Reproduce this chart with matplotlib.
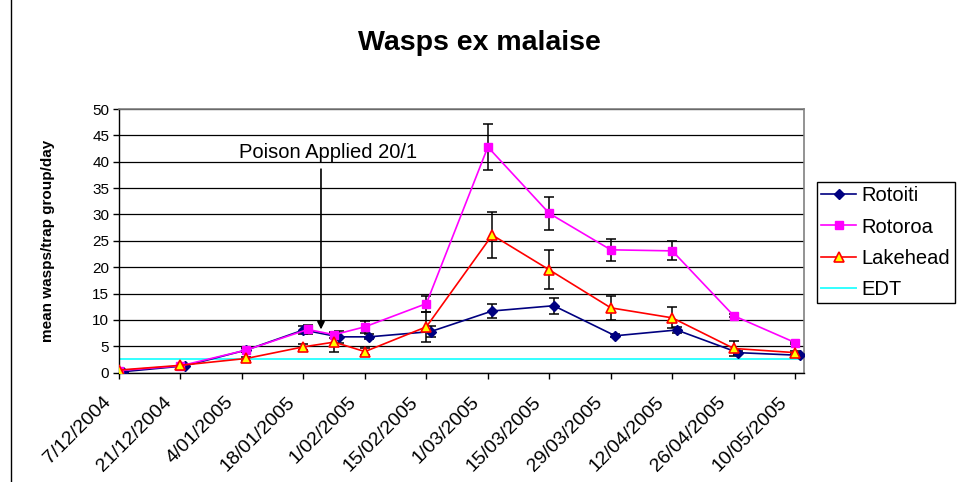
import matplotlib
matplotlib.use("Agg")
import matplotlib.pyplot as plt
import matplotlib.transforms as mtransforms
import pandas as pd
import numpy as np

plt.rcParams['font.family'] = ['Liberation Sans', 'DejaVu Sans']

# ---------------- data ----------------
tick_labels = ['7/12/2004', '21/12/2004', '4/01/2005', '18/01/2005', '1/02/2005',
               '15/02/2005', '1/03/2005', '15/03/2005', '29/03/2005', '12/04/2005',
               '26/04/2005', '10/05/2005']

rotoiti_dates = ['8/12/2004', '22/12/2004', '5/01/2005', '18/01/2005', '26/01/2005',
                 '2/02/2005', '16/02/2005', '2/03/2005', '16/03/2005', '30/03/2005',
                 '13/04/2005', '27/04/2005', '11/05/2005']
rotoiti_values = [0.2, 1.3, 4.3, 8.1, 6.8, 6.8, 7.8, 11.7, 12.7, 7.0, 8.1, 3.8, 3.3]
rotoiti_err = [0, 0, 0.3, 0.8, 1.1, 0.5, 1.1, 1.3, 1.5, 0.3, 0.6, 0.3, 0.2]

rotoroa_dates = ['7/12/2004', '21/12/2004', '5/01/2005', '19/01/2005', '25/01/2005',
                 '1/02/2005', '15/02/2005', '1/03/2005', '15/03/2005', '29/03/2005',
                 '12/04/2005', '26/04/2005', '10/05/2005']
rotoroa_values = [0.4, 1.3, 4.3, 8.2, 7.2, 8.7, 13.1, 42.8, 30.2, 23.3, 23.1, 10.8, 5.7]
rotoroa_err = [0, 0, 0.3, 0.8, 0.6, 1.1, 1.5, 4.3, 3.1, 2.1, 1.8, 0.3, 0.2]

lakehead_dates = ['7/12/2004', '21/12/2004', '5/01/2005', '18/01/2005', '25/01/2005',
                  '1/02/2005', '15/02/2005', '2/03/2005', '15/03/2005', '29/03/2005',
                  '12/04/2005', '26/04/2005', '10/05/2005']
lakehead_values = [0.5, 1.4, 2.7, 4.9, 5.8, 4.0, 8.7, 26.1, 19.5, 12.3, 10.4, 4.6, 3.8]
lakehead_err = [0, 0, 0.3, 0.6, 1.8, 0.7, 2.8, 4.4, 3.7, 2.3, 2.0, 1.5, 0.3]

edt_dates = ['7/12/2004', '11/05/2005']
edt_values = [2.6, 2.6]

annotation_text = 'Poison Applied 20/1'
annotation_date = '22/01/2005'
annotation_top = 38.6
annotation_tip = 8.2


def to_dates(lst):
    return pd.to_datetime(lst, dayfirst=True, format='%d/%m/%Y')


# ---------------- figure ----------------
W, H = 965, 482
fig = plt.figure(figsize=(W / 100, H / 100), dpi=100)
fig.patch.set_facecolor('white')

ax = fig.add_axes([119 / W, 1 - 372.7 / H, (804 - 119) / W, (372.7 - 109) / H])

# grid
ax.set_ylim(0, 50)
ax.set_yticks(np.arange(0, 51, 5))
ax.yaxis.grid(True, color='black', linewidth=0.9)
ax.set_axisbelow(True)

series = [
    ('Rotoiti', rotoiti_dates, rotoiti_values, rotoiti_err,
     dict(color='#000080', marker='D', markersize=5, markerfacecolor='#000080',
          markeredgecolor='#000080')),
    ('Rotoroa', rotoroa_dates, rotoroa_values, rotoroa_err,
     dict(color='#FF00FF', marker='s', markersize=6, markerfacecolor='#FF00FF',
          markeredgecolor='#FF00FF')),
    ('Lakehead', lakehead_dates, lakehead_values, lakehead_err,
     dict(color='#FF0000', marker='^', markersize=7, markerfacecolor='#FFFF00',
          markeredgecolor='#FF0000', markeredgewidth=1.2)),
]

for name, d, v, e, style in series:
    dt = to_dates(d)
    e = np.asarray(e)
    m = e > 0
    ax.errorbar(np.asarray(dt)[m], np.asarray(v)[m], yerr=e[m], fmt='none',
                ecolor='black', elinewidth=1.1, capsize=3.5, capthick=1.1, zorder=2)

edt_line, = ax.plot(to_dates(edt_dates), edt_values, color='#33FFFF', linewidth=1.4,
                    label='EDT', zorder=2.5)

handles = []
for name, d, v, e, style in series:
    ln, = ax.plot(to_dates(d), v, linewidth=1.2, label=name, zorder=3, **style)
    handles.append(ln)
handles.append(edt_line)

# x axis
ticks = to_dates(tick_labels)
ax.set_xlim(to_dates(['7/12/2004'])[0], to_dates(['12/05/2005'])[0])
ax.set_xticks(ticks)
ax.set_xticklabels([''] * len(tick_labels))
label_tf = ax.get_xaxis_transform() + mtransforms.ScaledTranslation(
    -17 / 100, -21 / 100, fig.dpi_scale_trans)
for t, lab in zip(ticks, tick_labels):
    ax.text(t, 0, lab, transform=label_tf, rotation=45, ha='right', va='top',
            rotation_mode='anchor', fontsize=14, clip_on=False)
ax.tick_params(axis='x', direction='out', length=4, width=1, pad=4, colors='black')
ax.tick_params(axis='y', direction='out', length=4, width=1, pad=3, labelsize=11)

for s in ['top', 'right']:
    ax.spines[s].set_color('#808080')
    ax.spines[s].set_linewidth(1.2)
for s in ['left', 'bottom']:
    ax.spines[s].set_color('black')
    ax.spines[s].set_linewidth(1.0)

# annotation
ax.annotate('', xy=(to_dates([annotation_date])[0], annotation_tip),
            xytext=(to_dates([annotation_date])[0], annotation_top),
            arrowprops=dict(arrowstyle='-|>', color='black', lw=1.2,
                            mutation_scale=11, shrinkA=0, shrinkB=0))
fig.text(328 / W, 1 - 152 / H, annotation_text, ha='center', va='center', fontsize=14.5)

# title and y label
fig.text(479 / W, 1 - 43 / H, 'Wasps ex malaise', ha='center', va='center',
         fontsize=20.5, fontweight='bold')
fig.text(48 / W, 1 - 241 / H, 'mean wasps/trap group/day', ha='center', va='center',
         rotation=90, fontsize=11, fontweight='bold')

# legend
leg = fig.legend(handles, ['Rotoiti', 'Rotoroa', 'Lakehead', 'EDT'],
                 loc='upper left', bbox_to_anchor=(817 / W, 1 - 182 / H),
                 fontsize=14.5, frameon=True, fancybox=False, framealpha=1,
                 edgecolor='black', handlelength=1.7, labelspacing=0.6,
                 borderpad=0.22, handletextpad=0.3, borderaxespad=0)
leg.get_frame().set_linewidth(1.0)

# outer chart border
fig.add_artist(plt.Line2D([11 / W, 11 / W], [0, 1], color='black', linewidth=1.0,
                          transform=fig.transFigure))

fig.savefig('out.png', dpi=100)
